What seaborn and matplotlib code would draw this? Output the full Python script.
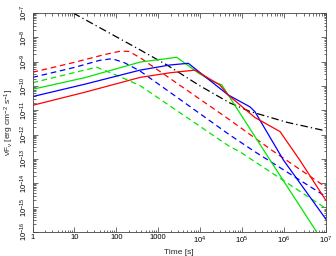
import numpy as np
import pandas as pd
import matplotlib
matplotlib.use('Agg')
import matplotlib.pyplot as plt
import seaborn as sns
from matplotlib.ticker import FixedLocator, FixedFormatter, LogLocator, NullFormatter

sns.set_style('ticks')
plt.rcParams['font.family'] = ['Liberation Sans', 'DejaVu Sans']
plt.rcParams['mathtext.default'] = 'regular'

# values, as log10(time [s]) and log10(nuF_nu)
red_solid_lt = [0, 1.25, 2.57, 3.28, 3.88, 4.47, 4.67, 5.31, 5.91, 6.38, 7.0]
red_solid_lf = [-10.80, -10.26, -9.65, -9.46, -9.35, -9.96, -10.37, -11.30, -11.88, -13.05, -14.7]

blue_solid_lt = [0, 1.25, 2.57, 3.28, 3.72, 4.67, 5.19, 5.31, 5.99, 7.02]
blue_solid_lf = [-10.44, -9.93, -9.35, -9.14, -9.07, -10.37, -10.86, -11.06, -13.05, -15.52]

green_solid_lt = [0, 1.25, 2.57, 3.2, 3.44, 3.97, 4.28, 4.52, 5.67, 6.78]
green_solid_lf = [-10.14, -9.66, -9.02, -8.88, -8.82, -9.48, -9.80, -9.96, -13.05, -16.0]

red_dash_lt = [0, 1.0, 1.7, 2.1, 2.3, 2.57, 4.71, 5.74, 7.0]
red_dash_lf = [-9.44, -9.03, -8.72, -8.57, -8.58, -8.84, -11.40, -12.68, -14.16]

blue_dash_lt = [0, 1.0, 1.6, 1.9, 2.2, 2.57, 3.5, 4.71, 5.31, 7.0]
blue_dash_lf = [-9.65, -9.24, -8.95, -8.88, -9.05, -9.39, -10.53, -12.02, -12.71, -14.55]

green_dash_lt = [0, 1.0, 1.53, 2.09, 2.57, 4.71, 4.95, 7.0]
green_dash_lf = [-9.87, -9.45, -9.23, -9.62, -9.99, -12.50, -12.71, -15.04]

black_lt = [0.97, 2.57, 3.21, 4.0, 4.71, 5.19, 6.08, 7.0]
black_lf = [-7.0, -8.52, -9.14, -10.0, -10.70, -11.05, -11.50, -11.85]

x_ticks = [1, 10, 100, 1000, 1e4, 1e5, 1e6, 1e7]
x_tick_labels = ['1', '10', '100', '1000', '$10^{4}$', '$10^{5}$', '$10^{6}$', '$10^{7}$']
y_ticks = [1e-16, 1e-15, 1e-14, 1e-13, 1e-12, 1e-11, 1e-10, 1e-9, 1e-8, 1e-7]
y_tick_labels = ['$10^{-16}$', '$10^{-15}$', '$10^{-14}$', '$10^{-13}$', '$10^{-12}$',
                 '$10^{-11}$', '$10^{-10}$', '$10^{-9}$', '$10^{-8}$', '$10^{-7}$']

GREEN = '#00e600'
dash = (0, (4.5, 3))
dashdot = (0, (6, 2.5, 1, 2.5))

series = [
    (red_dash_lt, red_dash_lf, 'red', dash),
    (blue_dash_lt, blue_dash_lf, 'blue', dash),
    (green_dash_lt, green_dash_lf, GREEN, dash),
    (black_lt, black_lf, 'black', dashdot),
    (green_solid_lt, green_solid_lf, GREEN, '-'),
    (blue_solid_lt, blue_solid_lf, 'blue', '-'),
    (red_solid_lt, red_solid_lf, 'red', '-'),
]

fig = plt.figure(figsize=(3.36, 2.56), dpi=100)
ax = fig.add_axes([32.5 / 336, 1 - 231.7 / 256, (325.7 - 32.5) / 336, (231.7 - 13) / 256])

for lt, lf, c, ls in series:
    df = pd.DataFrame({'t': 10 ** np.array(lt), 'f': 10 ** np.array(lf)})
    sns.lineplot(data=df, x='t', y='f', ax=ax, color=c, linestyle=ls, lw=0.9,
                 sort=False, estimator=None)

ax.set_xscale('log')
ax.set_yscale('log')
ax.set_xlim(1, 1e7)
ax.set_ylim(1e-16, 1e-7)

ax.xaxis.set_major_locator(FixedLocator(x_ticks))
ax.xaxis.set_major_formatter(FixedFormatter(x_tick_labels))
ax.xaxis.set_minor_locator(LogLocator(base=10, subs=np.arange(2, 10), numticks=20))
ax.xaxis.set_minor_formatter(NullFormatter())
ax.yaxis.set_major_locator(FixedLocator(y_ticks))
ax.yaxis.set_major_formatter(FixedFormatter(y_tick_labels))
ax.yaxis.set_minor_locator(LogLocator(base=10, subs=np.arange(2, 10), numticks=20))
ax.yaxis.set_minor_formatter(NullFormatter())

ax.tick_params(which='both', direction='in', top=True, right=True, width=0.5,
               colors='#333333', labelcolor='black', labelsize=5.5, pad=2)
ax.tick_params(which='major', length=3.5)
ax.tick_params(which='minor', length=1.8)
for lab in ax.get_yticklabels():
    lab.set_rotation(90)
    lab.set_va('center')

for s in ax.spines.values():
    s.set_linewidth(0.6)
    s.set_color('#444444')

ax.set_xlabel('Time [s]', fontsize=6, labelpad=2)
ax.set_ylabel(r'$\nu F_{\nu}$ [erg cm$^{-2}$ s$^{-1}$]', fontsize=6, labelpad=2)

fig.savefig('out.png', dpi=100)
